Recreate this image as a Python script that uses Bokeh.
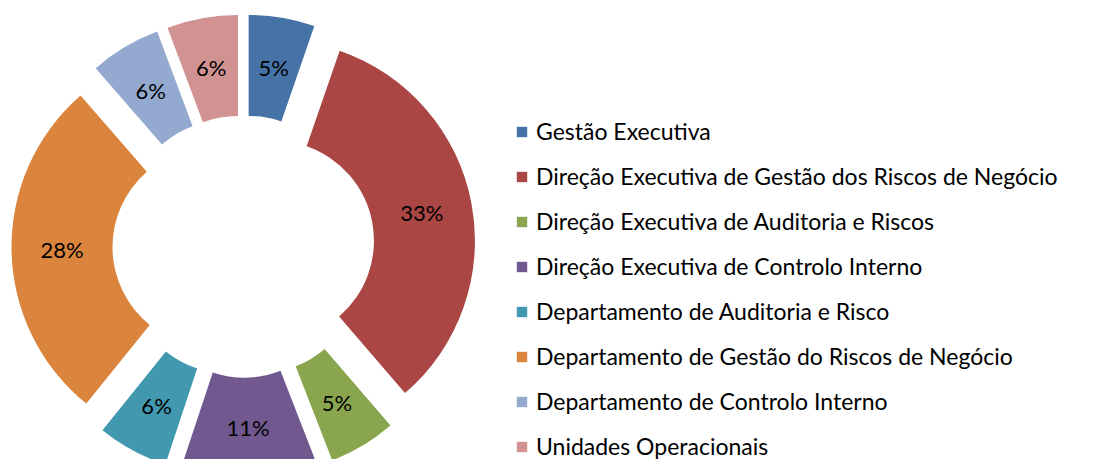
import math
from bokeh.plotting import figure
from bokeh.models import Range1d, Legend, LegendItem
from bokeh.core.properties import value
from bokeh.embed import file_html
from bokeh.resources import INLINE

categories = [
    "Gestão Executiva",
    "Direção Executiva de Gestão dos Riscos de Negócio",
    "Direção Executiva de Auditoria e Riscos",
    "Direção Executiva de Controlo Interno",
    "Departamento de Auditoria e Risco",
    "Departamento de Gestão do Riscos de Negócio",
    "Departamento de Controlo Interno",
    "Unidades Operacionais",
]
shares = [5.3, 33.4, 5.4, 11.0, 5.7, 27.8, 5.7, 5.7]
colors = ["#4572A7", "#AA4643", "#89A54E", "#71588F", "#4198AF", "#DB843D", "#93A9CF", "#D19392"]

FONT = "Lato"
R_OUT, R_IN, EXPLODE = 201, 100, 31

p = figure(width=1077, height=459, output_backend="svg", toolbar_location=None,
           x_range=Range1d(-243, 834), y_range=Range1d(-213, 246),
           min_border=0, outline_line_color=None)
p.axis.visible = False
p.grid.visible = False

total = sum(shares)
cum = 0.0
items = []
lx, ly, lt = [], [], []
for cat, v, c in zip(categories, shares, colors):
    a0 = cum / total * 2 * math.pi
    a1 = (cum + v) / total * 2 * math.pi
    mid = (a0 + a1) / 2
    cum += v
    ox = EXPLODE * math.sin(mid)
    oy = EXPLODE * math.cos(mid)
    r = p.annular_wedge(x=ox, y=oy, inner_radius=R_IN, outer_radius=R_OUT,
                        start_angle=math.pi / 2 - a0, end_angle=math.pi / 2 - a1,
                        direction="clock", fill_color=c, line_color=None)
    items.append(LegendItem(label=cat, renderers=[r]))
    rm = (R_IN + R_OUT) / 2
    lx.append(ox + rm * math.sin(mid))
    ly.append(oy + rm * math.cos(mid))
    lt.append(f"{round(v / total * 100)}%")

p.text(x=lx, y=ly, text=lt, text_align="center", text_baseline="middle",
       text_font=value(FONT), text_font_size="22px", text_color="#000000")

legend = Legend(items=items, location=(515, -1), orientation="vertical",
                glyph_width=13, glyph_height=13, label_standoff=8, spacing=17,
                padding=0, margin=0, border_line_color=None, background_fill_alpha=0,
                label_text_font=FONT, label_text_font_size="23px", label_text_color="#000000")
p.add_layout(legend)

open("out.html", "w").write(file_html(p, INLINE))
